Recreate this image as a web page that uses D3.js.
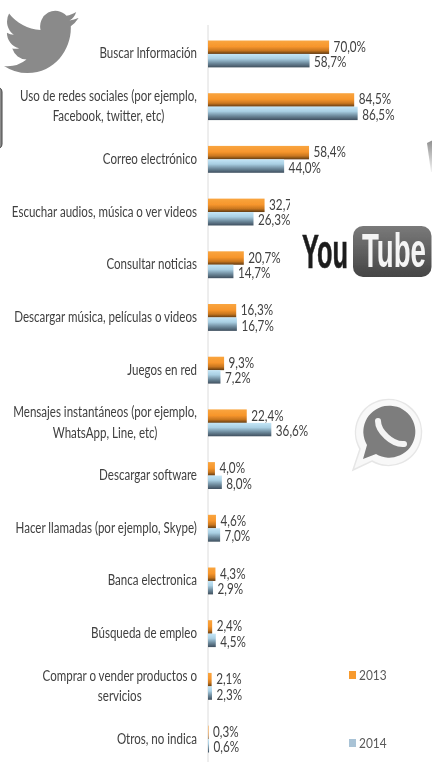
<!DOCTYPE html>
<html><head><meta charset="utf-8">
<script src="https://cdn.jsdelivr.net/npm/d3@7"></script>
<style>html,body{margin:0;padding:0;background:#fff}svg{display:block}</style>
</head><body><div id="c"></div>
<script>
const categories = ["Buscar Información","Uso de redes sociales (por ejemplo,|Facebook, twitter, etc)","Correo electrónico","Escuchar audios, música o ver videos","Consultar noticias","Descargar música, películas o videos","Juegos en red","Mensajes instantáneos (por ejemplo,|WhatsApp, Line, etc)","Descargar software","Hacer llamadas (por ejemplo, Skype)","Banca electronica","Búsqueda de empleo","Comprar o vender productos o|servicios","Otros, no indica"];
const values2013 = [70.0,84.5,58.4,32.7,20.7,16.3,9.3,22.4,4.0,4.6,4.3,2.4,2.1,0.3];
const values2014 = [58.7,86.5,44.0,26.3,14.7,16.7,7.2,36.6,8.0,7.0,2.9,4.5,2.3,0.6];
const seriesNames = ["2013","2014"];

const W=432,H=762, FONT='Lato,"Liberation Sans",sans-serif';
const svg=d3.select("#c").append("svg").attr("width",W).attr("height",H);
const defs=svg.append("defs");
function grad(id,stops){const g=defs.append("linearGradient").attr("id",id).attr("x1",0).attr("x2",0).attr("y1",0).attr("y2",1);
 stops.forEach(s=>g.append("stop").attr("offset",s[0]).attr("stop-color",s[1]));}
grad("g13",[[0,"#f9a53f"],[.45,"#f7962c"],[.75,"#c8761f"],[1,"#5f3a12"]]);
grad("g14",[[0,"#c4e6f7"],[.35,"#a9cfe3"],[.7,"#6b8799"],[1,"#3f4f5e"]]);
grad("ytg",[[0,"#7a7a7a"],[1,"#454545"]]);
grad("frag",[[0,"#8f8f8f"],[1,"#f4f4f4"]]);
const soft=defs.append("filter").attr("id","soft");soft.append("feGaussianBlur").attr("stdDeviation",0.3);
const softIcon=defs.append("filter").attr("id","softIcon");softIcon.append("feGaussianBlur").attr("stdDeviation",0.6);

function squeezed(sel,x,y,sx){return sel.attr("transform",`translate(${x},${y}) scale(${sx},1)`);}

const x=d3.scaleLinear().domain([0,100]).range([208,381]);
const y=d3.scaleBand().domain(categories).range([27.6,765.4]).paddingInner(0.49).paddingOuter(0.245);
const sub=d3.scaleBand().domain(seriesNames).range([0,y.bandwidth()]);
const rows=categories.map((c,i)=>({c,i,v:[values2013[i],values2014[i]]}));

svg.append("line").attr("x1",x(0)).attr("x2",x(0)).attr("y1",25).attr("y2",762).attr("stroke","#dcdcdc").attr("stroke-width",1);

const chart=svg.append("g").attr("filter","url(#soft)");
const row=chart.selectAll("g.row").data(rows).join("g").attr("class","row").attr("transform",d=>`translate(0,${y(d.c)})`);
const VAL_SX=0.78, CAT_SX=0.77;
seriesNames.forEach((s,k)=>{
 row.append("rect").attr("x",x(0)).attr("y",sub(s)).attr("height",sub.bandwidth()).attr("width",d=>x(d.v[k])-x(0)).attr("fill",k?"url(#g14)":"url(#g13)");
 row.append("text").each(function(d){squeezed(d3.select(this),x(d.v[k])+4.5,sub(s)+sub.bandwidth()/2+(k?1:-1)+5.5,VAL_SX);})
  .attr("font-family",FONT).attr("font-size",15).attr("fill","#404040").text(d=>d.v[k].toFixed(1).replace(".",",")+"%");
});
row.each(function(d){
 const ls=d.c.split("|"),g=d3.select(this),cy=y.bandwidth()/2;
 const ts=ls.map((t,j)=>g.append("text").attr("font-family",FONT).attr("font-size",15).attr("fill","#404040").attr("text-anchor","middle").text(t));
 const mw=Math.max(...ts.map(t=>t.node().getComputedTextLength()))*CAT_SX;
 ts.forEach((t,j)=>squeezed(t,197-mw/2,cy+4.5+(j-(ls.length-1)/2)*20.5,CAT_SX));
});

const lg=svg.selectAll("g.lg").data(seriesNames).join("g").attr("class","lg").attr("transform",(d,i)=>`translate(349,${i?743:675})`);
lg.append("rect").attr("y",-4).attr("width",7).attr("height",8).attr("fill",(d,i)=>i?"#a9c3d6":"#f79a2e");
lg.append("text").each(function(){squeezed(d3.select(this),10,5,0.85);}).attr("font-family",FONT).attr("font-size",14).attr("fill","#595959").text(d=>d);

const ic=svg.append("g").attr("filter","url(#softIcon)");
ic.append("path").attr("fill","#8a8a8a").attr("transform","translate(4,3.5) scale(3.1,3.2)")
 .attr("d","M23.953 4.57a10 10 0 01-2.825.775 4.958 4.958 0 002.163-2.723c-.951.555-2.005.959-3.127 1.184a4.92 4.92 0 00-8.384 4.482C7.69 8.095 4.067 6.13 1.64 3.162a4.822 4.822 0 00-.666 2.475c0 1.71.87 3.213 2.188 4.096a4.904 4.904 0 01-2.228-.616v.06a4.923 4.923 0 003.946 4.827 4.996 4.996 0 01-2.212.085 4.936 4.936 0 004.604 3.417 9.867 9.867 0 01-6.102 2.105c-.39 0-.779-.023-1.17-.067a13.995 13.995 0 007.557 2.209c9.053 0 13.998-7.496 13.998-13.985 0-.21 0-.42-.015-.63A9.935 9.935 0 0024 4.59z");
ic.append("rect").attr("x",-14).attr("y",87).attr("width",16).attr("height",62).attr("rx",5).attr("fill","#8c8c8c").attr("stroke","#444").attr("stroke-width",1);
ic.append("path").attr("fill","url(#frag)").attr("d","M427,143 L433,140 L433,172 L431,172 Z");

svg.append("rect").attr("x",290).attr("y",197).attr("width",142).attr("height",105).attr("fill","#fff");
const yt=svg.append("g").attr("filter","url(#soft)");
yt.append("text").attr("x",302).attr("y",268).attr("font-family",'"Liberation Sans"').attr("font-weight",700).attr("font-size",49).attr("fill","#1f1f1f").attr("stroke","#1f1f1f").attr("stroke-width",0.6).attr("textLength",46).attr("lengthAdjust","spacingAndGlyphs").text("You");
yt.append("rect").attr("x",353).attr("y",226).attr("width",78.5).attr("height",51).attr("rx",10).attr("fill","url(#ytg)");
yt.append("text").attr("x",362).attr("y",267).attr("font-family",'"Liberation Sans"').attr("font-weight",700).attr("font-size",49).attr("fill","#f4f4f4").attr("textLength",64).attr("lengthAdjust","spacingAndGlyphs").text("Tube");

const wa=svg.append("g").attr("filter","url(#softIcon)");
wa.append("path").attr("fill","#f8f8f8").attr("stroke","#e6e6e6").attr("stroke-width",1.5).attr("d","M353,470 L360,449 A33,33 0 1 1 372,461 Z");
wa.append("path").attr("fill","#7d7d7d").attr("d","M363,459 L367,445 A26,26 0 1 1 376,454 Z");
wa.append("path").attr("fill","none").attr("stroke","#f4f4f4").attr("stroke-width",6).attr("stroke-linecap","round").attr("d","M378,421 C378,431 392,445 404,444");
</script></body></html>
